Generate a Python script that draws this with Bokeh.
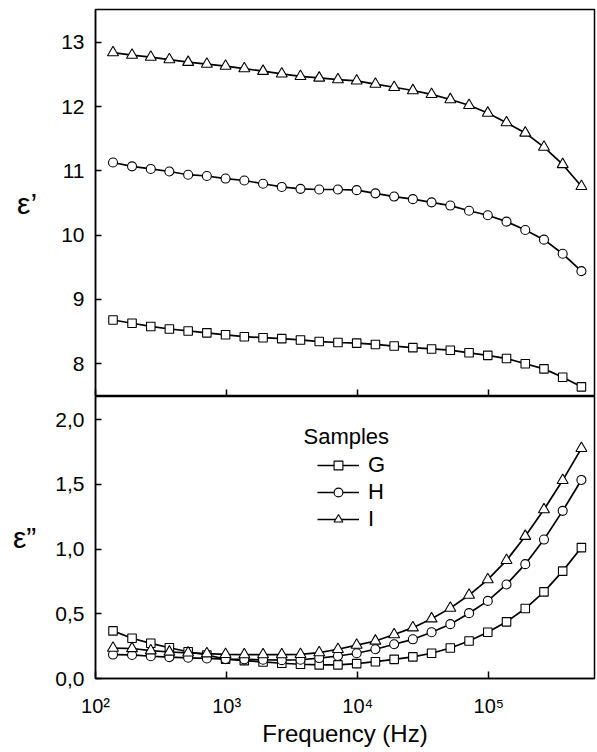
from bokeh.plotting import figure
from bokeh.models import Range1d, FixedTicker, CustomJSTickFormatter, Legend, LegendItem, Label
from bokeh.layouts import column
from bokeh.embed import file_html
from bokeh.resources import INLINE

# ---------------- data ----------------
freq = [136, 190, 264, 366, 509, 707, 982, 1365, 1897, 2635, 3660, 5086, 7068,
        9821, 13650, 18970, 26350, 36600, 50860, 70680, 98210, 136500, 189700,
        263500, 366000, 508600]

samples = ["G", "H", "I"]

eps1_G = [8.68, 8.63, 8.58, 8.54, 8.51, 8.48, 8.45, 8.42, 8.405, 8.39, 8.37, 8.345, 8.33,
          8.32, 8.30, 8.275, 8.25, 8.23, 8.21, 8.17, 8.13, 8.08, 8.00, 7.92, 7.79, 7.64]
eps1_H = [11.13, 11.07, 11.03, 10.99, 10.94, 10.92, 10.88, 10.85, 10.80, 10.75, 10.72, 10.71, 10.71,
          10.70, 10.65, 10.60, 10.56, 10.51, 10.46, 10.38, 10.31, 10.21, 10.08, 9.93, 9.71, 9.44]
eps1_I = [12.84, 12.80, 12.77, 12.73, 12.69, 12.66, 12.63, 12.59, 12.55, 12.51, 12.47, 12.445, 12.42,
          12.40, 12.35, 12.30, 12.25, 12.19, 12.11, 12.02, 11.90, 11.75, 11.59, 11.37, 11.10, 10.76]

eps2_G = [0.368, 0.311, 0.272, 0.238, 0.207, 0.182, 0.150, 0.138, 0.128, 0.118, 0.110, 0.105, 0.105,
          0.115, 0.130, 0.148, 0.167, 0.195, 0.236, 0.290, 0.357, 0.438, 0.541, 0.670, 0.830, 1.012]
eps2_H = [0.185, 0.182, 0.172, 0.165, 0.160, 0.155, 0.150, 0.148, 0.145, 0.142, 0.145, 0.158, 0.174,
          0.195, 0.226, 0.265, 0.303, 0.358, 0.420, 0.505, 0.600, 0.727, 0.884, 1.074, 1.296, 1.535]
eps2_I = [0.235, 0.232, 0.215, 0.205, 0.198, 0.192, 0.187, 0.185, 0.185, 0.185, 0.187, 0.200, 0.226,
          0.258, 0.290, 0.340, 0.393, 0.462, 0.544, 0.645, 0.765, 0.913, 1.100, 1.306, 1.532, 1.779]

x_ticks = [100, 1000, 10000, 100000]
x_tick_labels = ["10\u00b2", "10\u00b3", "10\u2074", "10\u2075"]
top_y_ticks = [8, 9, 10, 11, 12, 13]
bottom_y_ticks = [0.0, 0.5, 1.0, 1.5, 2.0]

top_ylabel = "\u03b5\u2019"
bottom_ylabel = "\u03b5\u201d"
xlabel = "Frequency (Hz)"
legend_title = "Samples"

# ---------------- style ----------------
FONT = "Liberation Sans"
W = 597
marker_of = {"G": "square", "H": "circle", "I": "triangle"}
size_of = {"G": 8.5, "H": 9, "I": 11}

x_range = Range1d(100, 6.4e5)


def style(p):
    p.grid.visible = False
    p.outline_line_color = "black"
    p.outline_line_width = 1.5
    p.outline_line_alpha = 1.0
    for ax in p.axis:
        ax.axis_line_width = 1.5
        ax.axis_line_color = "black"
        ax.major_tick_out = 0
        ax.minor_tick_in = 0
        ax.minor_tick_out = 0
        ax.major_tick_line_width = 1.5
        ax.major_tick_line_color = "black"
        ax.major_label_text_font = FONT
        ax.major_label_text_font_size = "21px"
        ax.major_label_text_color = "black"
        ax.axis_label_text_font = FONT
        ax.axis_label_text_font_style = "normal"
        ax.axis_label_text_color = "black"
    p.xaxis.major_tick_in = 7
    p.yaxis.major_tick_in = 6


top = figure(width=W, height=396, x_axis_type="log", x_range=x_range,
             y_range=Range1d(7.49, 13.51), output_backend="svg", toolbar_location=None,
             min_border_left=95, min_border_right=3, min_border_top=9, min_border_bottom=0)
style(top)
top.xaxis.ticker = FixedTicker(ticks=x_ticks, minor_ticks=[])
top.xaxis.major_label_text_font_size = "1px"
top.xaxis.major_label_text_alpha = 0
top.xaxis.major_label_standoff = 0
top.yaxis.ticker = FixedTicker(ticks=top_y_ticks, minor_ticks=[])
top.yaxis.major_label_standoff = 11
top.yaxis.axis_label = top_ylabel
top.yaxis.axis_label_text_font_size = "30px"
top.yaxis.axis_label_orientation = "horizontal"
top.yaxis.axis_label_standoff = 21

bottom = figure(width=W, height=356, x_axis_type="log", x_range=x_range,
                y_range=Range1d(0, 2.18), output_backend="svg", toolbar_location=None,
                min_border_left=95, min_border_right=3, min_border_top=0, min_border_bottom=74)
style(bottom)
bottom.xaxis.ticker = FixedTicker(ticks=x_ticks, minor_ticks=[])
bottom.xaxis.major_label_overrides = {t: lab for t, lab in zip(x_ticks, x_tick_labels)}
bottom.xaxis.major_label_text_font_size = "20px"
bottom.xaxis.major_label_standoff = 16
bottom.xaxis.axis_label = xlabel
bottom.xaxis.axis_label_text_font_size = "24px"
bottom.xaxis.axis_label_standoff = 0
bottom.yaxis.ticker = FixedTicker(ticks=bottom_y_ticks, minor_ticks=[])
bottom.yaxis.formatter = CustomJSTickFormatter(code="return tick.toFixed(1).replace('.', ',');")
bottom.yaxis.major_label_standoff = 11
bottom.yaxis.axis_label = bottom_ylabel
bottom.yaxis.axis_label_text_font_size = "30px"
bottom.yaxis.axis_label_orientation = "horizontal"
bottom.yaxis.axis_label_standoff = 16

items = []
for s, y1, y2 in zip(samples, [eps1_G, eps1_H, eps1_I], [eps2_G, eps2_H, eps2_I]):
    top.line(freq, y1, line_color="black", line_width=1.7)
    top.scatter(freq, y1, marker=marker_of[s], size=size_of[s], fill_color="white",
                line_color="black", line_width=1.1)
    l2 = bottom.line(freq, y2, line_color="black", line_width=1.7)
    s2 = bottom.scatter(freq, y2, marker=marker_of[s], size=size_of[s], fill_color="white",
                        line_color="black", line_width=1.1)
    items.append(LegendItem(label=s, renderers=[l2, s2]))

legend = Legend(items=items, location=(222, 146), padding=0, spacing=1, margin=0,
                glyph_width=42, glyph_height=22, label_height=22, label_standoff=9,
                border_line_color=None, background_fill_color=None,
                label_text_font=FONT, label_text_font_size="22px", label_text_color="black")
bottom.add_layout(legend)

bottom.add_layout(Label(x=208, y=242, x_units="screen", y_units="screen", text=legend_title,
                        text_font=FONT, text_font_size="22px", text_baseline="middle",
                        text_align="left", text_color="black"))

layout = column(top, bottom, spacing=0)
open("out.html", "w").write(file_html(layout, INLINE))
